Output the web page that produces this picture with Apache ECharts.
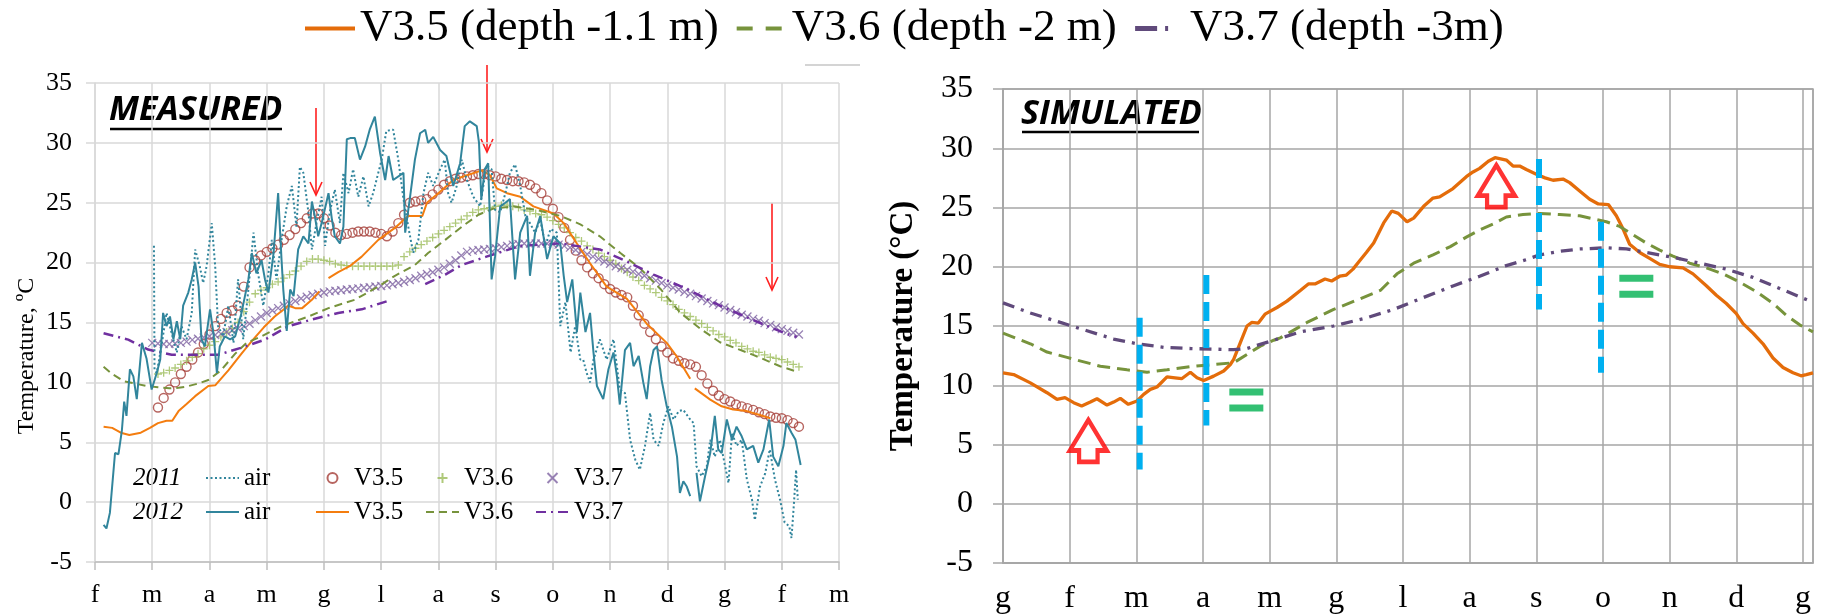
<!DOCTYPE html>
<html>
<head>
<meta charset="utf-8">
<title>Soil temperature at three depths</title>
<script src="https://cdn.jsdelivr.net/npm/echarts@6/dist/echarts.min.js"></script>
<style>
  html, body { margin: 0; padding: 0; background: #fff; }
  #chart { width: 1829px; height: 615px; }
</style>
</head>
<body>
<div id="chart"></div>
<script>
// ---- axis labels (Italian month initials) ----
const monthsLeft = ['f', 'm', 'a', 'm', 'g', 'l', 'a', 's', 'o', 'n', 'd', 'g', 'f', 'm'];
const monthsRight = ['g', 'f', 'm', 'a', 'm', 'g', 'l', 'a', 's', 'o', 'n', 'd', 'g'];

// ---- measured, 2011 (month position, °C) ----
const air2011 = [[1.03,21.4],[1.04,11.0],[1.08,10.8],[1.16,13.0],[1.25,15.8],[1.34,14.1],[1.43,12.5],[1.51,14.7],[1.6,13.6],[1.69,15.8],[1.75,21.1],[1.83,19.7],[1.89,18.3],[1.95,19.7],[2.04,23.3],[2.1,19.7],[2.15,14.7],[2.24,13.85],[2.33,16.4],[2.42,13.3],[2.5,18.6],[2.59,13.6],[2.68,17.75],[2.77,22.5],[2.85,19.1],[2.94,16.4],[3.03,19.1],[3.09,21.9],[3.17,18.6],[3.26,21.9],[3.35,24.7],[3.44,26.4],[3.52,23.0],[3.58,28.0],[3.64,27.5],[3.73,24.15],[3.79,21.1],[3.87,23.3],[3.96,25.5],[4.02,21.4],[4.1,24.15],[4.19,26.1],[4.28,23.3],[4.34,27.5],[4.43,25.8],[4.51,27.8],[4.6,25.5],[4.69,27.2],[4.78,24.7],[4.86,25.8],[4.95,27.5],[5.01,28.6],[5.09,31.0],[5.21,31.1],[5.3,28.6],[5.39,25.3],[5.47,23.1],[5.56,20.8],[5.65,21.9],[5.74,25.8],[5.82,27.5],[5.91,26.4],[6.03,27.8],[6.11,28.6],[6.17,25.8],[6.23,25.0],[6.32,26.4],[6.41,28.6],[6.49,27.0],[6.61,25.5],[6.73,24.7],[6.84,28.1],[6.93,27.8],[6.99,24.4],[7.08,24.2],[7.17,25.8],[7.25,27.5],[7.34,28.2],[7.43,26.4],[7.52,23.9],[7.6,23.3],[7.69,22.5],[7.78,23.6],[7.87,21.4],[7.96,22.8],[8.07,22.5],[8.13,14.7],[8.22,16.7],[8.31,12.5],[8.39,14.7],[8.48,11.9],[8.53,11.9],[8.59,10.8],[8.65,10.0],[8.71,11.9],[8.82,13.6],[8.94,11.9],[9.06,13.6],[9.17,9.4],[9.26,9.1],[9.35,5.2],[9.44,3.55],[9.52,2.7],[9.61,4.7],[9.7,7.45],[9.76,5.2],[9.85,4.7],[9.93,6.6],[10.02,8.0],[10.11,6.9],[10.2,7.6],[10.28,7.7],[10.4,6.9],[10.46,6.6],[10.51,3.0],[10.6,2.16],[10.69,3.0],[10.75,5.2],[10.83,3.8],[10.92,5.2],[11.01,3.0],[11.07,1.6],[11.13,5.8],[11.21,4.7],[11.3,5.2],[11.39,1.9],[11.48,0.2],[11.53,-1.5],[11.62,1.3],[11.71,2.4],[11.79,4.4],[11.88,1.9],[11.97,0.2],[12.05,-1.7],[12.13,-2.0],[12.17,-3.0],[12.21,-0.3],[12.25,2.7],[12.28,0.2]];

const v35_2011 = [[1.1,7.9],[1.2,8.7],[1.3,9.4],[1.4,10.0],[1.5,10.7],[1.6,11.3],[1.7,11.9],[1.8,12.5],[1.9,13.2],[2.0,14.0],[2.1,14.7],[2.2,15.3],[2.3,15.8],[2.4,16.0],[2.5,16.4],[2.6,18.0],[2.7,19.6],[2.8,20.2],[2.9,20.6],[3.0,20.9],[3.1,21.2],[3.2,21.5],[3.3,21.9],[3.4,22.3],[3.5,22.8],[3.6,23.3],[3.7,23.7],[3.8,24.1],[3.9,24.1],[4.0,23.7],[4.1,23.1],[4.2,22.5],[4.3,22.3],[4.4,22.4],[4.5,22.5],[4.6,22.6],[4.7,22.6],[4.8,22.6],[4.9,22.5],[5.0,22.4],[5.1,22.2],[5.2,22.6],[5.3,23.3],[5.4,24.0],[5.5,25.0],[5.6,25.1],[5.7,25.2],[5.8,25.3],[5.9,25.7],[6.0,26.1],[6.1,26.5],[6.2,26.8],[6.3,27.0],[6.4,27.1],[6.5,27.2],[6.6,27.3],[6.7,27.4],[6.8,27.4],[6.9,27.3],[7.0,27.2],[7.1,27.0],[7.2,26.9],[7.3,26.8],[7.4,26.8],[7.5,26.7],[7.6,26.5],[7.7,26.2],[7.8,25.8],[7.9,25.2],[8.0,24.5],[8.1,23.8],[8.2,22.9],[8.3,21.9],[8.4,21.0],[8.5,20.2],[8.6,19.6],[8.7,19.1],[8.8,18.7],[8.9,18.2],[9.0,17.8],[9.1,17.5],[9.2,17.3],[9.3,17.1],[9.4,16.4],[9.5,15.6],[9.6,14.9],[9.7,14.2],[9.8,13.6],[9.9,13.0],[10.0,12.5],[10.1,12.0],[10.2,11.8],[10.3,11.6],[10.4,11.5],[10.5,11.3],[10.6,10.6],[10.7,9.9],[10.8,9.3],[10.9,8.9],[11.0,8.6],[11.1,8.4],[11.2,8.15],[11.3,8.0],[11.4,7.85],[11.5,7.7],[11.6,7.5],[11.7,7.35],[11.8,7.15],[11.9,7.05],[12.0,7.0],[12.1,6.85],[12.2,6.6],[12.3,6.3]];

const v36_2011 = [[1.1,10.7],[1.2,10.8],[1.3,11.0],[1.4,11.2],[1.5,11.5],[1.6,11.8],[1.7,12.1],[1.8,12.4],[1.9,12.8],[2.0,13.1],[2.1,13.4],[2.2,13.8],[2.3,14.2],[2.4,14.5],[2.5,15.0],[2.6,15.9],[2.7,16.7],[2.8,17.4],[2.9,17.7],[3.0,17.9],[3.1,18.2],[3.2,18.4],[3.3,18.7],[3.4,19.0],[3.5,19.3],[3.6,19.7],[3.7,20.1],[3.8,20.3],[3.9,20.3],[4.0,20.2],[4.1,20.1],[4.2,19.9],[4.3,19.8],[4.4,19.75],[4.5,19.7],[4.6,19.7],[4.7,19.7],[4.8,19.7],[4.9,19.7],[5.0,19.7],[5.1,19.7],[5.2,19.7],[5.3,19.8],[5.4,20.5],[5.5,20.9],[5.6,21.2],[5.7,21.5],[5.8,21.8],[5.9,22.1],[6.0,22.4],[6.1,22.7],[6.2,23.0],[6.3,23.3],[6.4,23.6],[6.5,23.9],[6.6,24.2],[6.7,24.4],[6.8,24.5],[6.9,24.6],[7.0,24.7],[7.1,24.8],[7.2,24.8],[7.3,24.7],[7.4,24.6],[7.5,24.4],[7.6,24.3],[7.7,24.1],[7.8,24.0],[7.9,23.8],[8.0,23.5],[8.1,23.2],[8.2,22.9],[8.3,22.5],[8.4,22.1],[8.5,21.8],[8.6,21.4],[8.7,21.1],[8.8,20.8],[8.9,20.5],[9.0,20.2],[9.1,19.9],[9.2,19.5],[9.3,19.2],[9.4,18.8],[9.5,18.5],[9.6,18.1],[9.7,17.8],[9.8,17.5],[9.9,17.1],[10.0,16.8],[10.1,16.5],[10.2,16.1],[10.3,15.8],[10.4,15.5],[10.5,15.2],[10.6,14.9],[10.7,14.6],[10.8,14.3],[10.9,14.0],[11.0,13.8],[11.1,13.5],[11.2,13.3],[11.3,13.0],[11.4,12.8],[11.5,12.6],[11.6,12.5],[11.7,12.3],[11.8,12.1],[11.9,12.0],[12.0,11.9],[12.1,11.7],[12.2,11.5],[12.3,11.3]];

const v37_2011 = [[1.0,13.3],[1.1,13.25],[1.2,13.2],[1.3,13.2],[1.4,13.25],[1.5,13.3],[1.6,13.4],[1.7,13.55],[1.8,13.65],[1.9,13.75],[2.0,13.85],[2.1,13.95],[2.2,14.05],[2.3,14.2],[2.4,14.35],[2.5,14.5],[2.6,14.7],[2.7,14.9],[2.8,15.2],[2.9,15.5],[3.0,15.8],[3.1,16.0],[3.2,16.2],[3.3,16.4],[3.4,16.6],[3.5,16.8],[3.6,17.0],[3.7,17.15],[3.8,17.3],[3.9,17.4],[4.0,17.5],[4.1,17.6],[4.2,17.65],[4.3,17.7],[4.4,17.75],[4.5,17.8],[4.6,17.85],[4.7,17.9],[4.8,17.95],[4.9,18.0],[5.0,18.05],[5.1,18.1],[5.2,18.2],[5.3,18.3],[5.4,18.4],[5.5,18.55],[5.6,18.7],[5.7,18.9],[5.8,19.05],[5.9,19.2],[6.0,19.4],[6.1,19.6],[6.2,19.9],[6.3,20.2],[6.4,20.6],[6.5,20.9],[6.6,21.0],[6.7,21.05],[6.8,21.1],[6.9,21.15],[7.0,21.2],[7.1,21.3],[7.2,21.4],[7.3,21.5],[7.4,21.55],[7.5,21.6],[7.6,21.6],[7.7,21.6],[7.8,21.6],[7.9,21.6],[8.0,21.55],[8.1,21.5],[8.2,21.4],[8.3,21.25],[8.4,21.05],[8.5,20.9],[8.6,20.7],[8.7,20.5],[8.8,20.3],[8.9,20.1],[9.0,19.9],[9.1,19.7],[9.2,19.55],[9.3,19.4],[9.4,19.25],[9.5,19.05],[9.6,18.9],[9.7,18.7],[9.8,18.5],[9.9,18.3],[10.0,18.1],[10.1,17.9],[10.2,17.75],[10.3,17.55],[10.4,17.4],[10.5,17.2],[10.6,17.0],[10.7,16.8],[10.8,16.6],[10.9,16.45],[11.0,16.25],[11.1,16.05],[11.2,15.85],[11.3,15.65],[11.4,15.5],[11.5,15.3],[11.6,15.15],[11.7,14.95],[11.8,14.8],[11.9,14.6],[12.0,14.45],[12.1,14.3],[12.2,14.15],[12.3,14.0]];

// ---- measured, 2012 ----
const air2012 = [[0.15,-1.9],[0.2,-2.2],[0.26,-0.9],[0.35,4.1],[0.41,4.0],[0.47,6.0],[0.51,8.4],[0.55,7.2],[0.61,11.1],[0.67,10.5],[0.73,8.6],[0.82,13.3],[0.9,12.0],[0.99,9.4],[1.08,10.8],[1.14,11.9],[1.19,15.8],[1.25,14.7],[1.31,15.5],[1.37,13.6],[1.43,15.1],[1.49,13.6],[1.54,16.4],[1.63,17.5],[1.69,18.6],[1.75,20.0],[1.81,18.0],[1.86,13.6],[1.92,13.0],[2.01,16.1],[2.07,14.1],[2.13,10.8],[2.18,13.0],[2.27,13.85],[2.36,13.6],[2.45,13.85],[2.56,15.8],[2.68,18.6],[2.74,20.8],[2.82,19.1],[2.91,20.2],[2.97,18.6],[3.03,17.5],[3.12,20.8],[3.2,25.8],[3.26,20.2],[3.29,17.75],[3.35,14.3],[3.41,17.75],[3.47,17.2],[3.55,21.1],[3.64,22.2],[3.73,21.6],[3.79,25.1],[3.84,23.9],[3.9,22.2],[3.96,23.3],[4.08,25.8],[4.14,23.6],[4.19,22.2],[4.28,21.6],[4.34,23.0],[4.4,30.3],[4.46,30.4],[4.54,30.4],[4.63,28.6],[4.72,29.7],[4.8,31.1],[4.89,32.2],[4.98,29.2],[5.07,26.9],[5.13,28.9],[5.21,26.9],[5.39,27.5],[5.42,22.5],[5.5,25.3],[5.59,28.6],[5.68,30.8],[5.77,31.1],[5.82,30.0],[5.91,30.5],[6.03,29.4],[6.14,28.9],[6.26,26.4],[6.38,28.3],[6.46,31.4],[6.55,31.8],[6.67,31.4],[6.71,30.0],[6.75,25.3],[6.81,27.8],[6.87,28.3],[6.93,18.6],[6.99,20.5],[7.08,24.7],[7.17,25.0],[7.25,25.3],[7.34,18.6],[7.43,22.5],[7.55,23.9],[7.6,18.9],[7.69,22.5],[7.78,23.9],[7.9,20.3],[8.01,22.2],[8.13,21.6],[8.19,18.9],[8.25,16.7],[8.34,18.6],[8.42,14.2],[8.48,17.5],[8.57,14.2],[8.65,15.8],[8.71,12.5],[8.77,9.7],[8.88,8.6],[8.97,11.07],[9.06,12.5],[9.12,10.5],[9.17,8.15],[9.26,12.7],[9.35,13.3],[9.41,11.35],[9.5,12.2],[9.58,10.0],[9.64,8.6],[9.7,11.35],[9.76,12.7],[9.82,13.0],[9.9,10.2],[9.99,8.0],[10.08,6.3],[10.17,3.8],[10.22,0.77],[10.28,1.74],[10.34,1.3],[10.4,0.5],[10.45,null],[10.51,2.44],[10.57,0.07],[10.66,2.16],[10.75,4.1],[10.83,7.2],[10.89,4.4],[10.95,4.1],[11.04,6.9],[11.13,5.2],[11.21,6.3],[11.3,5.5],[11.39,4.4],[11.5,4.7],[11.59,3.3],[11.68,4.4],[11.78,6.9],[11.85,3.8],[11.94,3.0],[12.03,4.7],[12.08,6.6],[12.17,5.8],[12.24,5.2],[12.33,3.1]];

const v35_2012 = [[0.15,6.3],[0.3,6.2],[0.45,5.8],[0.6,5.6],[0.8,5.8],[0.96,6.2],[1.1,6.6],[1.25,6.8],[1.35,6.8],[1.46,7.6],[1.6,8.2],[1.75,8.85],[1.98,9.7],[2.1,9.75],[2.33,11.0],[2.56,12.4],[2.75,13.5],[2.95,14.6],[3.14,15.5],[3.38,16.4],[3.5,16.2],[3.62,16.2],[3.79,16.9],[3.92,17.6],[4.0,null],[4.08,18.7],[4.25,19.2],[4.45,19.7],[4.66,20.5],[4.95,21.9],[5.24,22.9],[5.47,23.9],[5.72,23.9],[5.8,25.0],[6.0,25.8],[6.26,26.9],[6.5,27.3],[6.76,27.7],[6.9,27.3],[7.02,26.2],[7.2,25.8],[7.43,25.5],[7.66,24.7],[8.01,24.1],[8.19,23.3],[8.42,21.6],[8.65,19.95],[8.94,18.0],[9.29,17.0],[9.64,14.9],[9.99,13.3],[10.16,12.2],[10.4,10.3],[10.44,null],[10.48,9.5],[10.75,8.56],[10.95,8.0],[11.15,7.73],[11.39,7.6],[11.6,7.3],[11.8,7.0]];

const v36_2012 = [[0.15,11.3],[0.3,10.7],[0.5,10.1],[0.7,9.9],[0.9,9.7],[1.1,9.6],[1.3,9.5],[1.46,9.55],[1.6,9.65],[1.8,9.9],[1.98,10.2],[2.2,11.0],[2.45,12.4],[2.65,13.3],[2.91,13.85],[3.26,14.7],[3.73,15.5],[4.08,16.2],[4.54,16.9],[4.95,18.0],[5.24,18.9],[5.59,19.8],[5.82,20.8],[6.12,21.9],[6.41,23.0],[6.7,24.0],[6.95,24.5],[7.31,24.7],[7.72,24.4],[8.13,23.9],[8.48,23.2],[8.82,22.2],[9.18,20.8],[9.53,19.5],[9.88,17.8],[10.22,15.85],[10.57,14.5],[10.92,13.35],[11.5,12.3],[11.97,11.35],[12.26,10.9]];

const v37_2012 = [[0.15,14.1],[0.58,13.57],[0.93,12.74],[1.34,12.3],[1.75,12.3],[2.15,12.3],[2.56,12.9],[2.97,13.57],[3.38,14.7],[3.79,15.25],[4.25,15.8],[4.66,16.1],[5.12,16.8],[5.4,null],[5.77,18.2],[6.12,19.0],[6.41,19.8],[6.84,20.5],[7.43,21.4],[8.13,21.6],[8.82,21.1],[9.29,20.1],[9.76,19.0],[10.34,17.8],[10.92,16.4],[11.5,15.2],[12.08,14.05],[12.26,13.8]];

// ---- simulated ----
const simV35 = [[0,11.05],[0.16,10.9],[0.41,10.2],[0.66,9.37],[0.81,8.8],[0.93,8.95],[1.06,8.53],[1.18,8.25],[1.31,8.58],[1.41,8.86],[1.56,8.33],[1.66,8.58],[1.76,8.89],[1.88,8.39],[2.01,8.67],[2.11,9.23],[2.21,9.65],[2.31,9.85],[2.46,10.7],[2.58,10.63],[2.68,10.55],[2.81,11.1],[2.91,10.63],[3.01,10.4],[3.16,10.77],[3.31,11.2],[3.41,11.75],[3.46,12.18],[3.56,13.6],[3.66,15.0],[3.73,15.3],[3.83,15.25],[3.93,16.0],[4.11,16.56],[4.26,17.1],[4.46,18.0],[4.58,18.55],[4.68,18.55],[4.83,18.97],[4.93,18.8],[5.05,19.2],[5.15,19.3],[5.25,19.8],[5.35,20.5],[5.45,21.2],[5.56,22.0],[5.71,23.7],[5.83,24.7],[5.93,24.5],[6.06,23.8],[6.16,24.1],[6.31,25.1],[6.45,25.8],[6.55,25.9],[6.75,26.6],[6.95,27.6],[7.05,28.0],[7.15,28.3],[7.28,28.9],[7.38,29.2],[7.55,29.0],[7.65,28.5],[7.75,28.5],[7.85,28.2],[8.0,27.8],[8.13,27.5],[8.25,27.3],[8.4,27.4],[8.5,27.1],[8.65,26.4],[8.8,25.7],[8.93,25.3],[9.08,25.25],[9.2,24.3],[9.3,23.2],[9.4,21.9],[9.55,21.2],[9.7,20.7],[9.85,20.2],[10.0,20.0],[10.2,19.9],[10.35,19.4],[10.55,18.4],[10.7,17.6],[10.85,16.9],[11.0,16.05],[11.1,15.2],[11.25,14.4],[11.4,13.5],[11.55,12.3],[11.7,11.5],[11.85,11.05],[11.97,10.8],[12.05,10.9],[12.15,11.05]];

const simV36 = [[0,14.4],[0.41,13.5],[0.66,12.8],[0.96,12.35],[1.06,12.2],[1.46,11.6],[1.86,11.3],[2.16,11.1],[2.46,11.3],[2.86,11.6],[3.16,11.75],[3.46,11.9],[3.66,12.6],[3.86,13.3],[4.06,13.8],[4.16,14.0],[4.56,15.3],[4.96,16.4],[5.36,17.3],[5.66,18.0],[5.91,19.4],[6.16,20.3],[6.45,21.0],[6.71,21.7],[6.95,22.5],[7.15,23.1],[7.35,23.6],[7.55,24.2],[7.8,24.4],[8.05,24.5],[8.35,24.4],[8.65,24.3],[8.85,24.05],[9.05,23.8],[9.25,23.4],[9.45,22.7],[9.65,22.0],[9.85,21.4],[10.05,20.9],[10.3,20.3],[10.55,19.9],[10.8,19.4],[11.05,18.7],[11.3,17.9],[11.55,16.9],[11.75,15.9],[11.95,15.1],[12.15,14.5]];

const simV37 = [[0,16.95],[0.41,16.1],[0.86,15.3],[1.26,14.6],[1.66,13.9],[2.01,13.5],[2.41,13.2],[2.81,13.1],[3.16,13.05],[3.46,13.0],[3.66,13.1],[4.06,13.8],[4.46,14.5],[4.96,15.0],[5.46,15.7],[5.86,16.4],[6.26,17.3],[6.76,18.4],[7.15,19.2],[7.55,20.1],[7.85,20.6],[8.05,21.0],[8.35,21.3],[8.65,21.5],[9.05,21.6],[9.35,21.5],[9.65,21.2],[10.05,20.8],[10.45,20.3],[10.85,19.8],[11.25,19.1],[11.55,18.4],[11.85,17.7],[12.15,17.0]];

// vertical markers on the simulated panel: [month, top °C, bottom °C]
const dividers = [[2.05,15.7,2.9],[3.05,19.3,6.6],[8.04,29.1,16.4],[8.97,23.8,11.05]];
// "warmer" arrows and "unchanged" signs: [month, °C]
const warmerMarks = [[1.28,5.3],[7.40,26.8]];
const equalMarks = [[3.65,8.75],[9.50,18.35]];

const serif = 'Liberation Serif';
const leftGrid = '#d9d9d9';
const rightGrid = '#a6a6a6';

function lineSeries(name, data, color, width, type, axis, z) {
  return {
    name, type: 'line', data, xAxisIndex: axis, yAxisIndex: axis,
    symbol: 'none', showSymbol: false, connectNulls: false, z: z || 2,
    lineStyle: { color, width, type }, itemStyle: { color }
  };
}
function markSeries(name, data, symbol, color, size, bw) {
  return {
    name, type: 'scatter', data, xAxisIndex: 0, yAxisIndex: 0, symbol, symbolSize: size, z: 1,
    itemStyle: { color: 'rgba(0,0,0,0)', borderColor: color, borderWidth: bw }
  };
}

const plusPath = 'path://M5,0V10M0,5H10';
const crossPath = 'path://M0,0L10,10M10,0L0,10';

const series = [
  markSeries('V3.5 2011', v35_2011, 'circle', '#a53f38', 9, 1.4),
  markSeries('V3.6 2011', v36_2011, plusPath, '#9bbb59', 8, 1.3),
  markSeries('V3.7 2011', v37_2011, crossPath, '#8064a2', 8, 1.3),
  lineSeries('V3.5 2012', v35_2012, '#f47d0f', 2, 'solid', 0, 3),
  lineSeries('V3.6 2012', v36_2012, '#77933c', 2, [8, 5], 0, 3),
  lineSeries('V3.7 2012', v37_2012, '#7030a0', 2.5, [10, 5, 2, 5], 0, 3),
  lineSeries('air 2011', air2011, '#31859c', 2, [2, 2.5], 0, 4),
  lineSeries('air 2012', air2012, '#31859c', 2, 'solid', 0, 4),
  lineSeries('V3.5 (depth -1.1 m)', simV35, '#e46c0a', 3.3, 'solid', 1, 3),
  lineSeries('V3.6 (depth -2 m)', simV36, '#77933c', 3, [13, 7], 1, 3),
  lineSeries('V3.7 (depth -3m)', simV37, '#604a7b', 3.3, [12, 7, 3, 7], 1, 3)
];

dividers.forEach(function (d, i) {
  series.push({
    name: 'divider ' + i, type: 'line', xAxisIndex: 1, yAxisIndex: 1, z: 5,
    data: [[d[0], d[1]], [d[0], d[2]]], symbol: 'none',
    lineStyle: { color: '#00b0f0', width: 6, type: [19, 8], cap: 'butt' }
  });
});
series.push({
  name: 'warmer', type: 'scatter', xAxisIndex: 1, yAxisIndex: 1, z: 6, data: warmerMarks,
  symbol: 'path://M20,0L40,32L30,32L30,44L10,44L10,32L0,32Z', symbolSize: [37, 42],
  itemStyle: { color: '#ffffff', borderColor: '#ff0000', borderWidth: 4.5, borderJoin: 'miter' }
});
series.push({
  name: 'unchanged', type: 'scatter', xAxisIndex: 1, yAxisIndex: 1, z: 6, data: equalMarks,
  symbol: 'path://M0,0H34V7H0ZM0,16H34V23H0Z', symbolSize: [34, 23],
  itemStyle: { color: '#00b050' }
});

// legend entry for a line series: line only, no point marker
const hideDot = { opacity: 0 };

function leftLegend(x, first, second) {
  return {
    left: x, top: 465, orient: 'vertical', padding: 0, itemGap: 8,
    itemWidth: 33, itemHeight: 10, selectedMode: false,
    data: [first, second],
    formatter: function (n) { return n.split(' ')[0]; },
    textStyle: { fontFamily: serif, fontSize: 25, color: '#000', lineHeight: 26 }
  };
}

// small red pointer arrows on the measured panel (pixel positions)
function pointer(x, y1, y2) {
  return [
    { type: 'line', shape: { x1: x, y1: y1, x2: x, y2: y2 }, style: { stroke: '#ff2020', lineWidth: 1.6 } },
    { type: 'polyline', shape: { points: [[x - 6, y2 - 13], [x, y2], [x + 6, y2 - 13]] }, style: { stroke: '#ff2020', lineWidth: 1.6, fill: null } }
  ];
}

const graphic = [].concat(
  pointer(316, 108, 195),
  pointer(487, 65, 152),
  pointer(772, 203, 290),
  [
    { type: 'line', shape: { x1: 805, y1: 65, x2: 860, y2: 65 }, style: { stroke: '#d4d4d4', lineWidth: 2 } },
    { type: 'text', x: 109, y: 93, style: { text: 'MEASURED', fontFamily: 'Open Sans', fontWeight: 'bold', fontStyle: 'italic', fontSize: 34, fill: '#000' } },
    { type: 'line', shape: { x1: 110, y1: 129, x2: 282, y2: 129 }, style: { stroke: '#000', lineWidth: 2.5 } },
    { type: 'text', x: 1021, y: 97, style: { text: 'SIMULATED', fontFamily: 'Open Sans', fontWeight: 'bold', fontStyle: 'italic', fontSize: 34, fill: '#000' } },
    { type: 'line', shape: { x1: 1022, y1: 132, x2: 1199, y2: 132 }, style: { stroke: '#000', lineWidth: 2.5 } },
    { type: 'text', x: 133, y: 478, style: { text: '2011', fontFamily: serif, fontStyle: 'italic', fontSize: 25, fill: '#000', verticalAlign: 'middle' } },
    { type: 'text', x: 133, y: 512, style: { text: '2012', fontFamily: serif, fontStyle: 'italic', fontSize: 25, fill: '#000', verticalAlign: 'middle' } },
    { type: 'text', x: 27, y: 356, rotation: Math.PI / 2,
      style: { text: 'Temperature, ºC', fontFamily: serif, fontSize: 24, fill: '#000', align: 'center', verticalAlign: 'middle' } }
  ]
);

const option = {
  animation: false,
  backgroundColor: '#ffffff',
  grid: [
    { left: 95, top: 83, width: 744, height: 479 },
    { left: 1003, top: 89, width: 810, height: 475, show: true, borderColor: rightGrid, borderWidth: 1.5, backgroundColor: 'transparent' }
  ],
  xAxis: [
    {
      type: 'value', gridIndex: 0, min: 0, max: 13, interval: 1,
      axisLine: { show: true, onZero: false, lineStyle: { color: '#bfbfbf', width: 1.5 } },
      axisTick: { show: true, length: 8, lineStyle: { color: '#bfbfbf', width: 1.5 } },
      axisLabel: { margin: 20, color: '#000', fontFamily: serif, fontSize: 26, showMinLabel: true, showMaxLabel: true,
        formatter: function (v) { return Number.isInteger(v) ? monthsLeft[v] : ''; } },
      splitLine: { show: true, lineStyle: { color: leftGrid, width: 1.5 } }
    },
    {
      type: 'value', gridIndex: 1, min: 0, max: 12.15, interval: 1,
      axisLine: { show: true, onZero: false, lineStyle: { color: rightGrid, width: 1.5 } },
      axisTick: { show: false },
      axisLabel: { margin: 20, color: '#000', fontFamily: serif, fontSize: 32, showMinLabel: true, showMaxLabel: true,
        formatter: function (v) { return Number.isInteger(v) ? monthsRight[v] : ''; } },
      splitLine: { show: true, lineStyle: { color: rightGrid, width: 1.5 } }
    }
  ],
  yAxis: [
    {
      type: 'value', gridIndex: 0, min: -5, max: 35, interval: 5,
      axisLine: { show: true, lineStyle: { color: leftGrid, width: 1.5 } },
      axisTick: { show: true, length: 9, lineStyle: { color: leftGrid, width: 1.5 } },
      axisLabel: { margin: 23, color: '#000', fontFamily: serif, fontSize: 26 },
      splitLine: { show: true, lineStyle: { color: leftGrid, width: 1.5 } }
    },
    {
      type: 'value', gridIndex: 1, min: -5, max: 35, interval: 5,
      name: 'Temperature (°C)', nameLocation: 'middle', nameGap: 83,
      nameTextStyle: { fontFamily: serif, fontSize: 33, fontWeight: 'bold', color: '#000' },
      axisLine: { show: true, lineStyle: { color: rightGrid, width: 1.5 } },
      axisTick: { show: true, length: 10, lineStyle: { color: rightGrid, width: 1.5 } },
      axisLabel: { margin: 30, color: '#000', fontFamily: serif, fontSize: 32 },
      splitLine: { show: true, lineStyle: { color: rightGrid, width: 1.5 } }
    }
  ],
  legend: [
    {
      left: 303, top: 6, padding: 0, itemWidth: 50, itemHeight: 14, itemGap: 16, selectedMode: false,
      textStyle: { fontFamily: serif, fontSize: 45, color: '#000' },
      data: [
        { name: 'V3.5 (depth -1.1 m)', itemStyle: hideDot, lineStyle: { width: 4 } },
        { name: 'V3.6 (depth -2 m)', itemStyle: hideDot, lineStyle: { width: 4, type: [16, 13] } },
        { name: 'V3.7 (depth -3m)', itemStyle: hideDot, lineStyle: { width: 5, type: [22, 8, 3, 100] } }
      ]
    },
    leftLegend(205, { name: 'air 2011', itemStyle: hideDot }, { name: 'air 2012', itemStyle: hideDot }),
    leftLegend(315, 'V3.5 2011', { name: 'V3.5 2012', itemStyle: hideDot }),
    leftLegend(425, 'V3.6 2011', { name: 'V3.6 2012', itemStyle: hideDot }),
    leftLegend(535, 'V3.7 2011', { name: 'V3.7 2012', itemStyle: hideDot })
  ],
  graphic: graphic,
  series: series
};

const chart = echarts.init(document.getElementById('chart'), null, { renderer: 'canvas' });
chart.setOption(option);
</script>
</body>
</html>
